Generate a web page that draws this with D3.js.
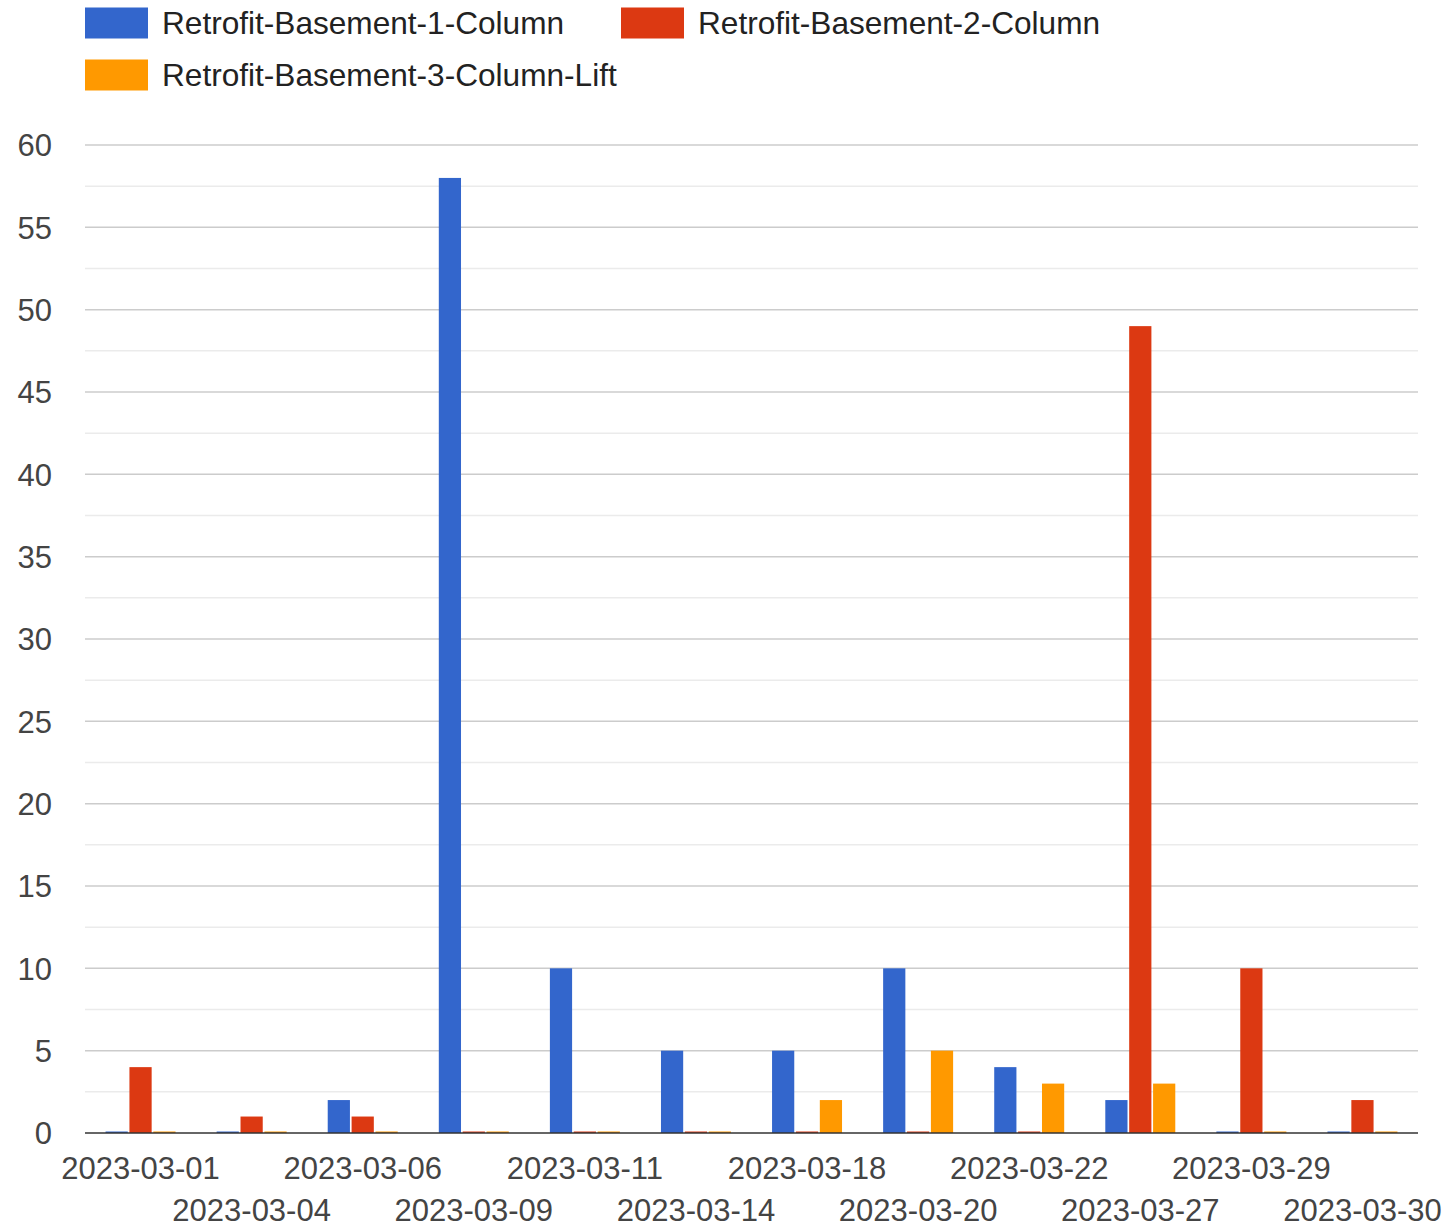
<html>
<head>
<script src="https://d3js.org/d3.v7.min.js"></script>
<style>
  body { margin: 0; background: #fff; }
  svg { font-family: "Liberation Sans", Arial, sans-serif; }
  .tick-text { font-size: 31px; fill: #444; }
  .legend-text { font-size: 31.6px; fill: #222; }
</style>
</head>
<body>
<div id="chart"></div>
<script>
var dates = ["2023-03-01", "2023-03-04", "2023-03-06", "2023-03-09", "2023-03-11", "2023-03-14",
             "2023-03-18", "2023-03-20", "2023-03-22", "2023-03-27", "2023-03-29", "2023-03-30"];
var seriesNames = ["Retrofit-Basement-1-Column", "Retrofit-Basement-2-Column", "Retrofit-Basement-3-Column-Lift"];
var basement1 = [0, 0, 2, 58, 10, 5, 5, 10, 4, 2, 0, 0];
var basement2 = [4, 1, 1, 0, 0, 0, 0, 0, 0, 49, 10, 2];
var basement3 = [0, 0, 0, 0, 0, 0, 2, 5, 3, 3, 0, 0];
var yTicks = [0, 5, 10, 15, 20, 25, 30, 35, 40, 45, 50, 55, 60];
var colors = ["#3366cc", "#dc3912", "#ff9900"];

var width = 1452, height = 1232;
var plotLeft = 85, plotRight = 1418, plotTop = 145, plotBottom = 1133;

var seriesValues = [basement1, basement2, basement3];
var rows = dates.map(function(d, i) {
  return { date: d, values: seriesValues.map(function(s, k) { return { key: k, value: s[i] }; }) };
});

var svg = d3.select("#chart").append("svg")
  .attr("width", width)
  .attr("height", height);

var x0 = d3.scaleBand().domain(dates).range([plotLeft, plotRight]).padding(0);
var groupW = x0.bandwidth() * 0.63;
var x1 = d3.scaleBand().domain([0, 1, 2]).range([0, groupW]).paddingInner(0.07);
var y = d3.scaleLinear().domain([0, 60]).range([plotBottom, plotTop]);

/* gridlines */
var minor = d3.range(2.5, 60, 5);
svg.append("g").selectAll("line").data(minor).enter().append("line")
  .attr("x1", plotLeft).attr("x2", plotRight)
  .attr("y1", d => y(d)).attr("y2", d => y(d))
  .attr("stroke", "#ebebeb").attr("stroke-width", 1.5);
svg.append("g").selectAll("line").data(yTicks.slice(1)).enter().append("line")
  .attr("x1", plotLeft).attr("x2", plotRight)
  .attr("y1", d => y(d)).attr("y2", d => y(d))
  .attr("stroke", "#cccccc").attr("stroke-width", 1.5);

/* y axis labels */
var yAxis = d3.axisLeft(y).tickValues(yTicks).tickSize(0).tickPadding(0);
var yg = svg.append("g").attr("transform", "translate(52,0)").call(yAxis);
yg.select(".domain").remove();
yg.attr("font-size", null).attr("font-family", null);
yg.selectAll("text").attr("class", "tick-text").attr("fill", null).attr("dy", "0.35em");

/* bars */
var groups = svg.append("g").selectAll("g").data(rows).enter().append("g")
  .attr("transform", d => "translate(" + (x0(d.date) + (x0.bandwidth() - groupW) / 2) + ",0)");
groups.selectAll("rect").data(d => d.values).enter().append("rect")
  .attr("x", d => x1(d.key))
  .attr("width", x1.bandwidth())
  .attr("y", d => d.value === 0 ? plotBottom - 1.5 : y(d.value))
  .attr("height", d => d.value === 0 ? 1.5 : plotBottom - y(d.value))
  .attr("fill", d => colors[d.key]);

/* baseline */
svg.append("line")
  .attr("x1", plotLeft).attr("x2", plotRight)
  .attr("y1", plotBottom).attr("y2", plotBottom)
  .attr("stroke", "#333").attr("stroke-width", 1.5);
groups.raise();

/* x labels, staggered over two rows */
var xAxis = d3.axisBottom(x0).tickSize(0).tickPadding(0);
var xg = svg.append("g").attr("transform", "translate(0," + plotBottom + ")").call(xAxis);
xg.select(".domain").remove();
xg.attr("font-size", null).attr("font-family", null);
xg.selectAll("text").attr("class", "tick-text").attr("fill", null)
  .attr("y", (d, i) => i % 2 === 0 ? 35 : 77)
  .attr("dy", "0.35em");

/* legend */
var legendPos = [[85, 23], [621, 23], [85, 75]];
var legend = svg.append("g").selectAll("g").data(seriesNames).enter().append("g")
  .attr("transform", (d, i) => "translate(" + legendPos[i][0] + "," + legendPos[i][1] + ")");
legend.append("rect")
  .attr("x", 0).attr("y", -15.5).attr("width", 63).attr("height", 31)
  .attr("fill", (d, i) => colors[i]);
legend.append("text")
  .attr("class", "legend-text")
  .attr("x", 77).attr("y", 0).attr("dy", "0.35em")
  .text(d => d);
</script>
</body>
</html>
